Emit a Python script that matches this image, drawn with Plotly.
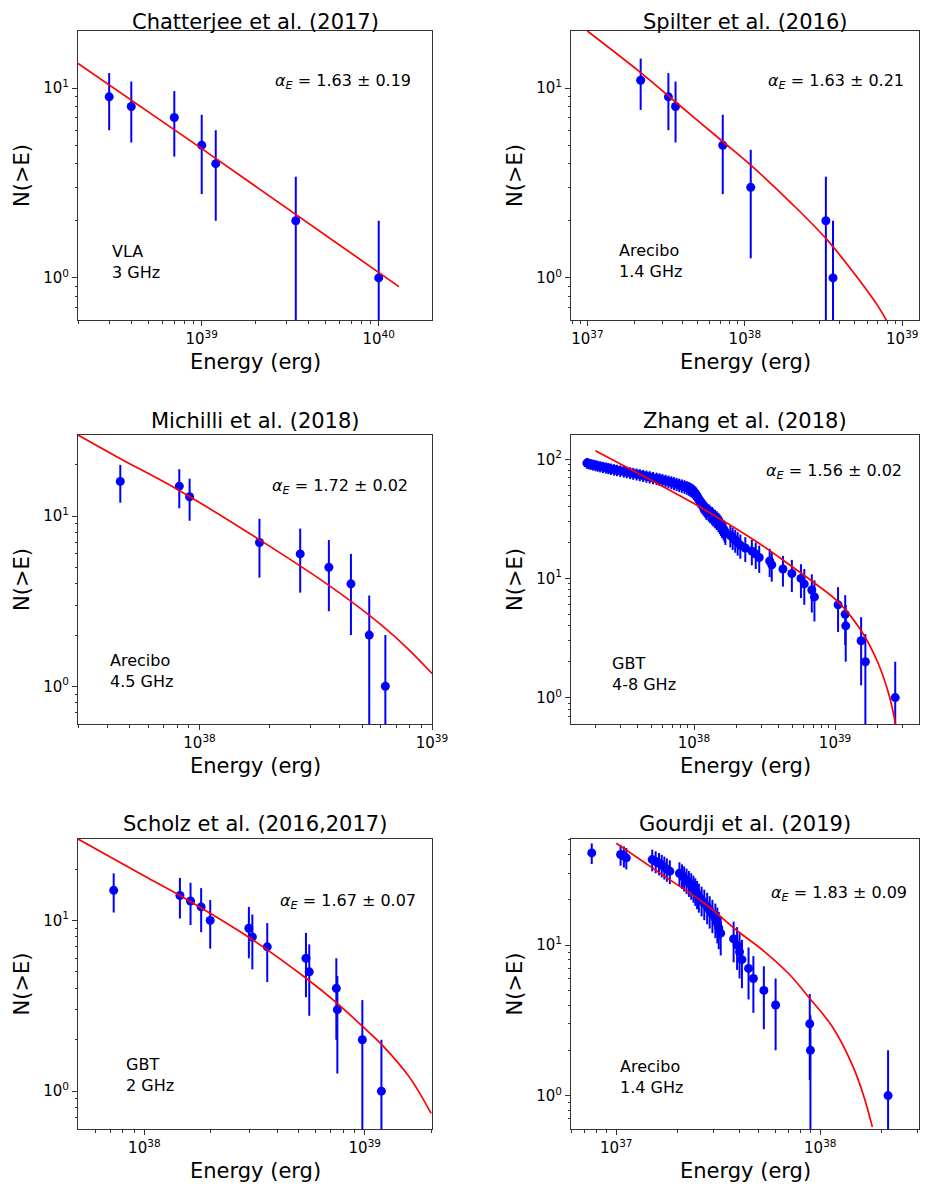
import math

import plotly.graph_objects as go

# Chatterjee et al. (2017), VLA 3 GHz
chat_energy = [3.0e38, 4.0e38, 7.0e38, 1.0e39, 1.2e39, 3.4e39, 1.0e40]
chat_count = [9, 8, 7, 5, 4, 2, 1]
chat_fit_energy = [2.0e38, 1.0e39, 1.3e40]
chat_fit_count = [13.5, 4.8, 0.9]

# Spilter et al. (2016), Arecibo 1.4 GHz
spil_energy = [2.18e37, 3.27e37, 3.63e37, 7.24e37, 1.09e38, 3.27e38, 3.63e38]
spil_count = [11, 9, 8, 5, 3, 2, 1]
spil_fit_energy = [1.0e37, 2.2e37, 3.6e37, 7.2e37, 1.1e38, 2.0e38, 3.3e38, 5.3e38, 7.0e38, 8.0e38]
spil_fit_count = [20.0, 12.0, 8.5, 5.25, 3.9, 2.45, 1.6, 0.98, 0.71, 0.59]

# Michilli et al. (2018), Arecibo 4.5 GHz
mich_energy = [4.56e37, 8.18e37, 9.06e37, 1.81e38, 2.71e38, 3.60e38, 4.48e38, 5.37e38, 6.30e38]
mich_count = [16, 15, 13, 7, 6, 5, 4, 2, 1]
mich_fit_energy = [3.0e37, 4.5e37, 8.0e37, 1.8e38, 3.6e38, 5.4e38, 7.5e38, 1.0e39]
mich_fit_count = [30.0, 22.0, 14.4, 7.3, 3.92, 2.6, 1.77, 1.19]

# Zhang et al. (2018), GBT 4-8 GHz
zhan_energy = [
    1.74e37, 1.79e37, 1.85e37, 1.92e37, 2.00e37, 2.07e37, 2.16e37, 2.26e37, 2.37e37, 2.47e37,
    2.58e37, 2.71e37, 2.84e37, 3.00e37, 3.18e37, 3.34e37, 3.52e37, 3.71e37, 3.92e37, 4.13e37,
    4.36e37, 4.60e37, 4.85e37, 5.12e37, 5.43e37, 5.70e37, 5.98e37, 6.28e37, 6.59e37, 6.91e37,
    7.21e37, 7.53e37, 7.86e37, 8.20e37, 8.56e37, 8.89e37, 9.18e37, 9.43e37, 9.63e37, 9.84e37,
    1.00e38, 1.02e38, 1.03e38, 1.04e38, 1.05e38, 1.06e38, 1.07e38, 1.08e38, 1.10e38, 1.11e38,
    1.12e38, 1.13e38, 1.15e38, 1.17e38, 1.19e38, 1.21e38, 1.23e38, 1.27e38, 1.30e38, 1.34e38,
    1.37e38, 1.41e38, 1.45e38, 1.49e38, 1.52e38, 1.55e38, 1.58e38, 1.62e38, 1.65e38, 1.67e38,
    1.81e38, 1.88e38, 1.96e38, 2.04e38, 2.13e38, 2.31e38, 2.57e38, 2.74e38, 2.90e38, 3.44e38,
    3.56e38, 4.27e38, 4.94e38, 5.73e38, 6.05e38, 6.84e38, 7.14e38, 1.05e39, 1.18e39, 1.19e39,
    1.53e39, 1.64e39, 2.67e39,
]
zhan_count = [
    93, 92, 91, 90, 89, 88, 87, 86, 85, 84,
    83, 82, 81, 80, 79, 78, 77, 76, 75, 74,
    73, 72, 71, 70, 69, 68, 67, 66, 65, 64,
    63, 62, 61, 60, 59, 58, 57, 56, 55, 54,
    53, 52, 51, 50, 49, 48, 47, 46, 45, 44,
    43, 42, 41, 40, 39, 38, 37, 36, 35, 34,
    33, 32, 31, 30, 29, 28, 27, 26, 25, 24,
    23, 22, 21, 20, 19, 18, 17, 16, 15, 14,
    13, 12, 11, 10, 9, 8, 7, 6, 5, 4,
    3, 2, 1,
]
zhan_fit_energy = [2.0e37, 4.5e37, 1.0e38, 2.8e38, 4.8e38, 7.1e38, 1.06e39, 1.54e39, 2.02e39, 2.43e39, 2.68e39]
zhan_fit_count = [118, 71, 42.5, 20.2, 12.9, 9.2, 6.3, 3.6, 1.94, 1.02, 0.6]

# Scholz et al. (2016,2017), GBT 2 GHz
scho_energy = [7.26e37, 1.45e38, 1.62e38, 1.81e38, 1.99e38, 2.98e38, 3.09e38,
               3.61e38, 5.41e38, 5.60e38, 7.43e38, 7.51e38, 9.75e38, 1.19e39]
scho_count = [15, 14, 13, 12, 10, 9, 8, 7, 6, 5, 4, 3, 2, 1]
scho_fit_energy = [5.0e37, 1.0e38, 1.45e38, 3.1e38, 5.4e38, 7.5e38, 9.75e38, 1.2e39, 1.6e39, 2.0e39]
scho_fit_count = [30.0, 18.2, 14.0, 7.7, 4.6, 3.27, 2.4, 1.86, 1.2, 0.74]

# Gourdji et al. (2019), Arecibo 1.4 GHz
gour_energy = [
    7.58e36, 1.05e37, 1.09e37, 1.12e37, 1.50e37, 1.56e37, 1.62e37, 1.67e37, 1.72e37, 1.77e37,
    1.83e37, 2.04e37, 2.10e37, 2.15e37, 2.21e37, 2.27e37, 2.33e37, 2.39e37, 2.44e37, 2.49e37,
    2.54e37, 2.62e37, 2.70e37, 2.79e37, 2.87e37, 2.96e37, 3.06e37, 3.13e37, 3.18e37, 3.25e37,
    3.76e37, 3.91e37, 4.02e37, 4.13e37, 4.45e37, 4.70e37, 5.29e37, 6.04e37, 8.88e37, 8.95e37,
    2.15e38,
]
gour_count = [
    41, 40, 39, 38, 37, 36, 35, 34, 33, 32,
    31, 30, 29, 28, 27, 26, 25, 24, 23, 22,
    21, 20, 19, 18, 17, 16, 15, 14, 13, 12,
    11, 10, 9, 8, 7, 6, 5, 4, 3, 2,
    1,
]
gour_fit_energy = [1.0e37, 1.68e37, 2.75e37, 3.9e37, 5.25e37, 7.05e37, 8.9e37, 1.14e38, 1.43e38, 1.62e38, 1.80e38]
gour_fit_count = [47.5, 29.4, 18.6, 12.5, 9.2, 6.4, 4.4, 2.9, 1.62, 1.03, 0.62]

titles = ["Chatterjee et al. (2017)", "Spilter et al. (2016)", "Michilli et al. (2018)",
          "Zhang et al. (2018)", "Scholz et al. (2016,2017)", "Gourdji et al. (2019)"]
alpha_labels = ["1.63 \u00b1 0.19", "1.63 \u00b1 0.21", "1.72 \u00b1 0.02",
                "1.56 \u00b1 0.02", "1.67 \u00b1 0.07", "1.83 \u00b1 0.09"]
telescope_labels = ["VLA<br>3 GHz", "Arecibo<br>1.4 GHz", "Arecibo<br>4.5 GHz",
                    "GBT<br>4-8 GHz", "GBT<br>2 GHz", "Arecibo<br>1.4 GHz"]

# The page keeps its default 8px body margin: the figure is sized so that
# margin + figure fills the window, and laid out 8px up and left.
# The right-most ~8px of the window do not show up, so the right column
# is kept a little narrower.
PAGE_MARGIN = 8
W, H = 928 - PAGE_MARGIN, 1191 - 2 * PAGE_MARGIN
FONT = "DejaVu Sans"

# frame positions in window pixels (left, right, top, bottom)
cols = [(78, 432), (571, 919)]
rows = [(31, 320), (435, 724), (839, 1129)]
title_gap = [18.5, 14.5, 14.5]  # px from frame top to title centre, per row

panels = [
    dict(e=chat_energy, n=chat_count, fe=chat_fit_energy, fn=chat_fit_count,
         xr=[38.301, 40.301], yr=[-0.2218, 1.301], xt=[39, 40], yt=[0, 1],
         alpha=(0.946, 0.825), tel=(0.09, 0.20)),
    dict(e=spil_energy, n=spil_count, fe=spil_fit_energy, fn=spil_fit_count,
         xr=[36.896, 39.106], yr=[-0.2218, 1.301], xt=[37, 38, 39], yt=[0, 1],
         alpha=(0.962, 0.825), tel=(0.131, 0.205)),
    dict(e=mich_energy, n=mich_count, fe=mich_fit_energy, fn=mich_fit_count,
         xr=[37.477, 39.0], yr=[-0.2218, 1.477], xt=[38, 39], yt=[0, 1],
         alpha=(0.938, 0.8235), tel=(0.086, 0.1845)),
    dict(e=zhan_energy, n=zhan_count, fe=zhan_fit_energy, fn=zhan_fit_count,
         xr=[37.128, 39.595], yr=[-0.2218, 2.204], xt=[38, 39], yt=[0, 1, 2],
         alpha=(0.958, 0.873), tel=(0.112, 0.174)),
    dict(e=scho_energy, n=scho_count, fe=scho_fit_energy, fn=scho_fit_count,
         xr=[37.699, 39.305], yr=[-0.2218, 1.477], xt=[38, 39], yt=[0, 1],
         alpha=(0.961, 0.786), tel=(0.13, 0.1845)),
    dict(e=gour_energy, n=gour_count, fe=gour_fit_energy, fn=gour_fit_count,
         xr=[36.778, 38.484], yr=[-0.2218, 1.705], xt=[37, 38], yt=[0, 1],
         alpha=(0.972, 0.8127), tel=(0.136, 0.179)),
]


def minor_vals(lo, hi):
    vals = []
    for d in range(math.floor(lo), math.ceil(hi) + 1):
        for k in range(2, 10):
            v = k * 10.0 ** d
            if lo <= math.log10(v) <= hi:
                vals.append(v)
    return vals


def axis_style(rng, decades, domain, anchor):
    return dict(
        type="log",
        range=rng,
        domain=domain,
        anchor=anchor,
        tickvals=[10.0 ** d for d in decades],
        ticktext=[f"10<sup>{d}</sup>" for d in decades],
        ticks="outside",
        ticklen=5,
        tickwidth=1,
        tickcolor="#333",
        tickfont=dict(family=FONT, size=15, color="black"),
        minor=dict(tickvals=minor_vals(*rng), ticks="outside", ticklen=2.5,
                   tickwidth=0.8, tickcolor="#333", showgrid=False),
        showline=True,
        linecolor="#333",
        linewidth=1,
        mirror=True,
        showgrid=False,
        zeroline=False,
        automargin=False,
    )


fig = go.Figure()
annotations = []
layout = {}

for i, p in enumerate(panels):
    idx = i + 1
    col = [c - PAGE_MARGIN for c in cols[i % 2]]
    row = [r - PAGE_MARGIN for r in rows[i // 2]]
    dx = [col[0] / W, min(col[1] / W, 1.0)]
    dy = [1 - row[1] / H, 1 - row[0] / H]
    xname, yname = f"x{idx}", f"y{idx}"

    layout[f"xaxis{idx}"] = axis_style(p["xr"], p["xt"], dx, yname)
    layout[f"yaxis{idx}"] = axis_style(p["yr"], p["yt"], dy, xname)

    fig.add_trace(go.Scatter(
        x=p["e"], y=p["n"], mode="markers",
        marker=dict(color="#0000ff", size=9),
        error_y=dict(type="sqrt", color="#0000ff", thickness=2, width=0),
        xaxis=xname, yaxis=yname, showlegend=False, hoverinfo="skip",
    ))
    fig.add_trace(go.Scatter(
        x=p["fe"], y=p["fn"], mode="lines",
        line=dict(color="#ff0000", width=1.7, shape="spline"),
        xaxis=xname, yaxis=yname, showlegend=False, hoverinfo="skip",
    ))

    fx = lambda f: dx[0] + f * (dx[1] - dx[0])
    fy = lambda f: dy[0] + f * (dy[1] - dy[0])

    annotations.append(dict(
        text=titles[i], x=(dx[0] + dx[1]) / 2, y=dy[1] + (row[0] - max(row[0] - title_gap[i // 2], 14.0)) / H,
        xref="paper", yref="paper", showarrow=False, xanchor="center", yanchor="middle",
        font=dict(family=FONT, size=21, color="black"),
    ))
    annotations.append(dict(
        text="Energy (erg)", x=(dx[0] + dx[1]) / 2, y=dy[0] - 41.5 / H,
        xref="paper", yref="paper", showarrow=False, xanchor="center", yanchor="middle",
        font=dict(family=FONT, size=21, color="black"),
    ))
    annotations.append(dict(
        text="N(>E)", x=dx[0] - 56.5 / W, y=(dy[0] + dy[1]) / 2, textangle=-90,
        xref="paper", yref="paper", showarrow=False, xanchor="center", yanchor="middle",
        font=dict(family=FONT, size=21, color="black"),
    ))
    annotations.append(dict(
        text="<i>\u03b1</i><sub><i>E</i></sub> = " + alpha_labels[i],
        x=fx(p["alpha"][0]), y=fy(p["alpha"][1]),
        xref="paper", yref="paper", showarrow=False, xanchor="right", yanchor="middle",
        font=dict(family=FONT, size=16, color="black"),
    ))
    annotations.append(dict(
        text=telescope_labels[i], x=fx(p["tel"][0]), y=fy(p["tel"][1]),
        xref="paper", yref="paper", showarrow=False, xanchor="left", yanchor="middle",
        align="left", font=dict(family=FONT, size=16, color="black"),
    ))

fig.update_layout(
    width=W, height=H,
    margin=dict(l=0, r=0, t=0, b=0),
    paper_bgcolor="white",
    plot_bgcolor="white",
    font=dict(family=FONT, color="black"),
    annotations=annotations,
    **layout,
)

fig.write_html("out.html", config={"displayModeBar": False})
